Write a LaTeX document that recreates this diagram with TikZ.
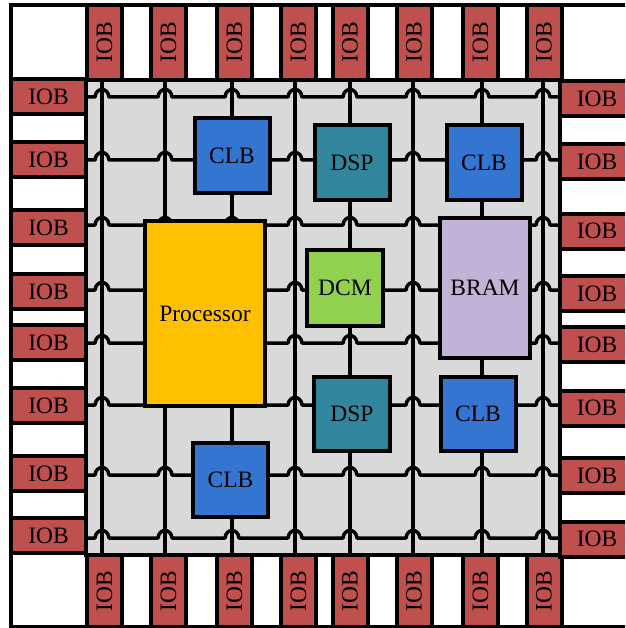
\documentclass[tikz,border=0pt]{standalone}
\usepackage{fontspec}
\setmainfont{Liberation Serif}
\definecolor{iobred}{HTML}{C0504D}
\definecolor{clbblue}{HTML}{3375D0}
\definecolor{dspteal}{HTML}{31869E}
\definecolor{dcmgreen}{HTML}{92D050}
\definecolor{bramlav}{HTML}{C0B3D6}
\definecolor{procyel}{HTML}{FFC000}
\definecolor{fabric}{HTML}{D9D9D9}
\tikzset{
  wire/.style={line width=3.5pt, line join=round},
  blk/.style={draw, line width=4pt, inner sep=0pt, font=\fontsize{23.5}{26}\selectfont},
  iobh/.style={blk, fill=iobred, minimum width=75pt, minimum height=35pt},
  iobv/.style={blk, fill=iobred, rotate=90, minimum height=35pt},
}
\begin{document}
\begin{tikzpicture}[x=1pt,y=-1pt]
\clip (0,0) rectangle (625,628);
% outer frame
\draw[line width=4pt, fill=white] (11,5) rectangle (640,627);
% fabric
\draw[line width=4pt, fill=fabric] (86,80) rectangle (560,555);
% vertical routing
\foreach \xv in {102,165,232,295,350,413,482,543}
  \draw[wire] (\xv,80) -- (\xv,555);
% horizontal routing with hops
\foreach \yh in {97,160,225,290,343,405,475,538}
  \draw[wire] (86,\yh)
    foreach \xv in {102,165,232,295,350,413,482,543} {
      -- ({\xv-7},\yh) .. controls ({\xv-6},{\yh-10}) and ({\xv+6},{\yh-10}) .. ({\xv+7},\yh)
    } -- (560,\yh);
% top IOBs
\foreach \n/\xc in {1/104.5,2/168.5,3/234.5,4/298.5,5/350,6/414,7/480.5,8/544}
  \node[iobv, minimum width=75pt] (t\n) at (\xc,42.5) {IOB};
% bottom IOBs
\foreach \n/\xc in {1/104.5,2/168.5,3/234.5,4/298.5,5/350,6/414,7/480.5,8/544}
  \node[iobv, minimum width=72pt] (b\n) at (\xc,591) {IOB};
% left IOBs
\foreach \n/\yc in {1/96.5,2/160,3/227.5,4/291.5,5/342.5,6/405.5,7/473.5,8/535.5}
  \node[iobh] (l\n) at (48.5,\yc) {IOB};
% right IOBs
\foreach \n/\yc in {1/98.5,2/161.5,3/231,4/293.5,5/344.5,6/408,7/475.5,8/539}
  \node[iobh] (r\n) at (597,\yc) {IOB};
% blocks
\node[blk, fill=clbblue, minimum width=75pt, minimum height=75pt] (clbA) at (232,155.5) {CLB};
\node[blk, fill=dspteal, minimum width=75pt, minimum height=75pt] (dspA) at (352,162.5) {DSP};
\node[blk, fill=clbblue, minimum width=75pt, minimum height=75pt] (clbB) at (484,162.5) {CLB};
\node[blk, fill=procyel, minimum width=120pt, minimum height=185pt] (proc) at (205,313.5) {Processor};
\node[blk, fill=dcmgreen, minimum width=76pt, minimum height=76pt] (dcm) at (345,288) {DCM};
\node[blk, fill=bramlav, minimum width=90pt, minimum height=140pt] (bram) at (485,288) {BRAM};
\node[blk, fill=dspteal, minimum width=76pt, minimum height=74pt] (dspB) at (352,413.5) {DSP};
\node[blk, fill=clbblue, minimum width=75pt, minimum height=74pt] (clbC) at (478,413.5) {CLB};
\node[blk, fill=clbblue, minimum width=75pt, minimum height=74pt] (clbD) at (230.5,480) {CLB};
\end{tikzpicture}
\end{document}
